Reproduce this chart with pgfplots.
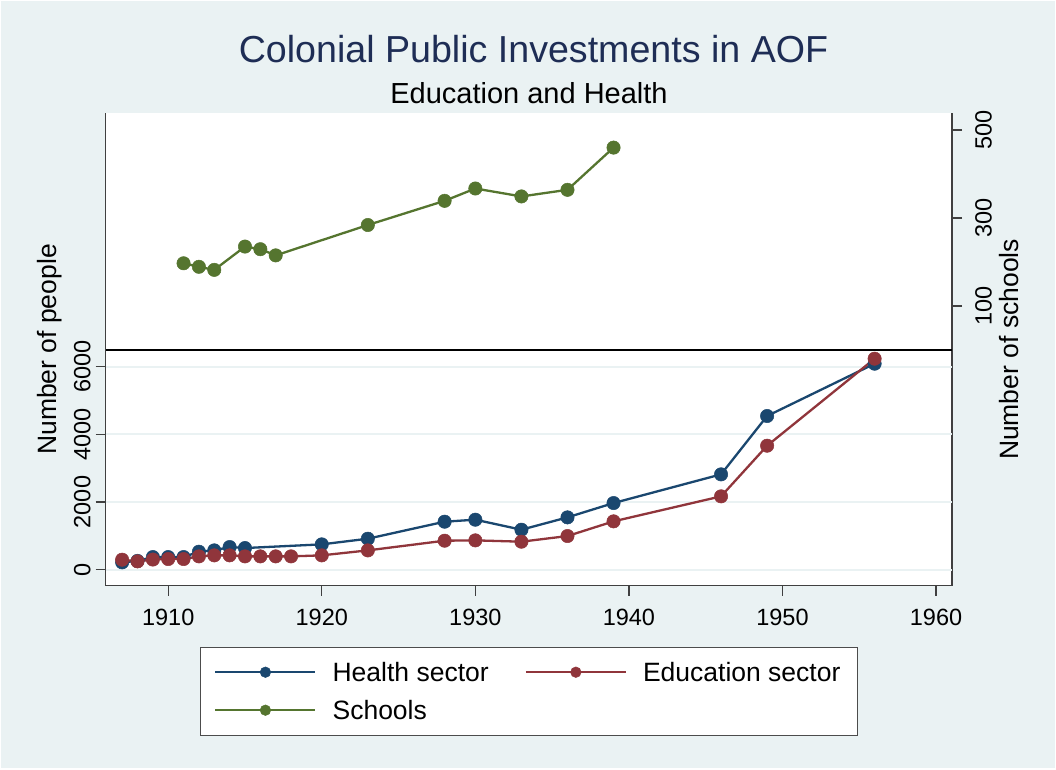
\documentclass[border=0pt]{standalone}
\usepackage{pgfplots}
\pgfplotsset{compat=1.18}
\usepackage{fontspec}
\setmainfont{Liberation Sans}
\definecolor{bg}{RGB}{234,242,243}
\definecolor{snavy}{RGB}{26,71,111}
\definecolor{smaroon}{RGB}{144,53,59}
\definecolor{sgreen}{RGB}{85,117,47}
\definecolor{sgrid}{RGB}{234,242,243}
\definecolor{stitle}{RGB}{30,45,85}

\pgfplotstableread{
year health
1907 217
1908 260
1909 374
1910 374
1911 374
1912 532
1913 571
1914 670
1915 640
1920 749
1923 916
1928 1419
1930 1478
1933 1182
1936 1547
1939 1970
1946 2818
1949 4543
1956 6089
}\health
\pgfplotstableread{
year educ
1907 296
1908 246
1909 300
1910 315
1911 315
1912 394
1913 424
1914 424
1915 394
1916 394
1917 394
1918 394
1920 424
1923 571
1928 857
1930 867
1933 828
1936 995
1939 1429
1946 2168
1949 3665
1956 6237
}\educ
\pgfplotstableread{
year schools
1911 197
1912 189
1913 182
1915 235
1916 229
1917 215
1923 284
1928 339
1930 367
1933 349
1936 364
1939 460
}\schools

\pgfplotsset{
  base/.style={at={(105.7pt,183.3pt)}, anchor=south west, scale only axis,
    width=846.3pt, height=472.4pt,
    xmin=1905.93, xmax=1961.04, tick align=outside, major tick length=10pt,
    tick style={black!75, line width=1.2pt},
    axis line style={black!75, line width=1.2pt, -},
    tick label style={font=\fontsize{23.5}{23.5}\selectfont},
    label style={font=\fontsize{26.5}{28}\selectfont},
    scaled y ticks=false,
    /pgf/number format/assume math mode=true,
    /pgf/number format/1000 sep={}},
  dot/.style={#1, line width=2.3pt, mark=*, mark size=6.7pt,
    mark options={solid, fill=#1, draw=#1, line width=0.5pt}},
}

\begin{document}
\begin{tikzpicture}[x=1pt,y=1pt]
\useasboundingbox (0,0) rectangle (1056,769);
\fill[white] (0,0) rectangle (1056,769);
\fill[bg] (1,1) rectangle (1055,768);
\node[font=\fontsize{37.6}{40}\selectfont, text=stitle, anchor=base, inner sep=0pt] at (533.5,706) {Colonial Public Investments in AOF};
\node[font=\fontsize{29}{32}\selectfont, anchor=base, inner sep=0pt] at (529,665) {Education and Health};

% schools axis (right)
\begin{axis}[base, axis x line=none, axis y line*=right,
  ymin=-536, ymax=538, ytick={100,300,500},
  axis background/.style={fill=white},
  yticklabel style={rotate=90, anchor=north, inner sep=0pt, yshift=-13pt},
  ylabel={Number of schools},
  ylabel style={at={(rel axis cs:1,0.5)}, anchor=north, inner sep=0pt, yshift=-47pt}]
\addplot[black, line width=1.3pt, forget plot] coordinates {(1905.93,0) (1961.04,0)};
\addplot[dot=sgreen] table[x=year, y=schools] {\schools};
\end{axis}

% people axis (left)
\begin{axis}[base, axis x line*=bottom, axis y line*=left,
  ymin=-473, ymax=13490, ytick={0,2000,4000,6000},
  xtick={1910,1920,1930,1940,1950,1960},
  ymajorgrids, grid style={sgrid, line width=2pt},
  yticklabel style={rotate=90, anchor=south, inner sep=0pt, yshift=5pt},
  xticklabel style={anchor=north, inner sep=0pt, yshift=-13pt},
  ylabel={Number of people},
  ylabel style={at={(rel axis cs:0,0.5)}, anchor=south, inner sep=0pt, yshift=44pt},
  legend columns=2, legend cell align=left,
  legend style={at={(rel axis cs:0.5,0)}, anchor=north, yshift=-61pt,
    draw=black!70, line width=1pt, fill=white, inner xsep=14pt, inner ysep=11pt,
    font=\fontsize{26.5}{28}\selectfont,
    nodes={inner sep=3pt, text height=20pt, text depth=2pt},
    row sep=10pt,
    /tikz/every even column/.append style={column sep=33pt},
    /tikz/every odd column/.append style={column sep=13pt}},
  legend image code/.code={\draw[mark repeat=2, mark phase=2, mark size=5.3pt] plot coordinates {(0pt,0pt) (50pt,0pt) (100pt,0pt)};}]
\addplot[dot=snavy] table[x=year, y=health] {\health};
\addlegendentry{Health sector}
\addplot[dot=smaroon] table[x=year, y=educ] {\educ};
\addlegendentry{Education sector}
\addlegendimage{dot=sgreen}
\addlegendentry{Schools}
\end{axis}
\end{tikzpicture}
\end{document}
